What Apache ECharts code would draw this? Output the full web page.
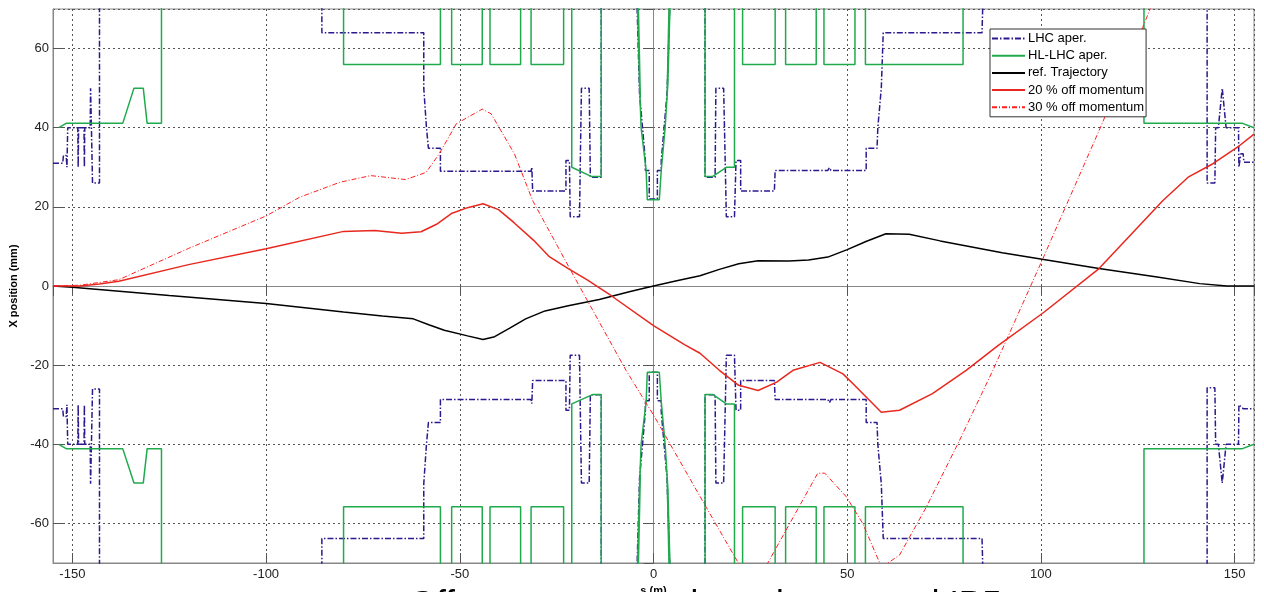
<!DOCTYPE html>
<html>
<head>
<meta charset="utf-8">
<script src="https://cdn.jsdelivr.net/npm/echarts@6/dist/echarts.min.js"></script>
<style>
  html, body { margin: 0; padding: 0; background: #fff; }
  #chart { width: 1264px; height: 592px; }
</style>
</head>
<body>
<div id="chart"></div>
<script>
// s (m), x (mm) pairs
var lhcUpper = [
  [-155, 31], [-152.5, 31], [-152.3, 33], [-151.6, 33], [-151.4, 30], [-151.3, 30], [-151.2, 40],
  [-148.6, 40], [-148.5, 30], [-148.4, 40], [-147, 40], [-146.9, 30], [-146.8, 40],
  [-145.4, 40], [-145.3, 50], [-145.1, 41], [-144.8, 41], [-144.8, 26], [-143, 26], [-143, 90],
  [-85.6, 90], [-85.6, 64], [-59.3, 64], [-59.3, 50], [-58.6, 40], [-58.1, 40], [-58.1, 34.8],
  [-55, 34.8], [-55, 29], [-31.6, 29], [-31.4, 30], [-31.2, 24], [-22.6, 24], [-22.6, 31.7],
  [-21.7, 31.7], [-21.5, 17.5], [-19.1, 17.5], [-18.9, 31], [-18.6, 50], [-16.6, 50], [-16.3, 27.5],
  [-13.5, 27.5], [-13.5, 90], [-4.8, 90], [-3.6, 48.6], [-2.1, 31.7], [-2.1, 29.2], [-1.1, 29.2],
  [-1.1, 22], [1, 22], [1, 29.2], [2, 29.2], [2, 31.7], [3.5, 48.6], [4.8, 90],
  [13.3, 90], [13.3, 27.5], [15.9, 27.5], [16.1, 50], [18.1, 50], [18.5, 31.7], [18.8, 17.5],
  [20.9, 17.5], [21.3, 31.7], [22.5, 31.7], [22.5, 24], [31.2, 24], [31.4, 29.2], [45, 29.2],
  [45.4, 29.9], [45.8, 29.2], [54.9, 29.2], [54.9, 34.8], [57.7, 34.8], [57.9, 40], [58.8, 50],
  [59.3, 64], [84.8, 64], [85.5, 90],
  [142.9, 90], [142.9, 26], [144.9, 26], [145.1, 40], [145.8, 40], [146.8, 50], [147.8, 40],
  [149.6, 40], [151, 40], [151.1, 30], [151.4, 30], [151.6, 33.4], [152.2, 33.4], [152.4, 31.3], [155, 31.3]
];
var lhcLower = [
  [-155, -31], [-152.5, -31], [-152.3, -33], [-151.6, -33], [-151.4, -30], [-151.3, -30], [-151.2, -40],
  [-148.6, -40], [-148.5, -30], [-148.4, -40], [-147, -40], [-146.9, -30], [-146.8, -40],
  [-145.4, -40], [-145.3, -50], [-145.1, -41], [-144.8, -41], [-144.8, -26], [-143, -26], [-143, -90],
  [-85.6, -90], [-85.6, -63.8], [-59.3, -63.8], [-59.3, -50], [-58.6, -40], [-58.1, -40], [-58.1, -34.5],
  [-55, -34.5], [-55, -28.7], [-31.6, -28.7], [-31.4, -29.7], [-31.2, -23.9], [-22.6, -23.9], [-22.6, -31.4],
  [-21.7, -31.4], [-21.5, -17.5], [-19.1, -17.5], [-18.9, -31], [-18.6, -49.8], [-16.6, -49.8], [-16.3, -27.5],
  [-13.5, -27.5], [-13.5, -90], [-4.8, -90], [-3.6, -48.6], [-2.1, -31.7], [-2.1, -29], [-1.1, -29],
  [-1.1, -21.8], [1, -21.8], [1, -29], [2, -29], [2, -31.7], [3.5, -48.6], [4.8, -90],
  [13.3, -90], [13.3, -27.5], [15.9, -27.5], [16.1, -49.8], [18.1, -49.8], [18.5, -31.7], [18.8, -17.5],
  [20.9, -17.5], [21.3, -31.4], [22.5, -31.4], [22.5, -23.9], [31.2, -23.9], [31.4, -28.7], [45, -28.7],
  [45.4, -29.5], [45.8, -28.7], [54.9, -28.7], [54.9, -34.5], [57.7, -34.5], [57.9, -40], [58.8, -50],
  [59.3, -63.8], [84.8, -63.8], [85.5, -90],
  [142.9, -90], [142.9, -25.7], [144.9, -25.7], [145.1, -40], [145.8, -40], [146.8, -49.8], [147.8, -40],
  [149.6, -40], [151, -40], [151.1, -30], [151.4, -30], [151.6, -29.8], [152.2, -31], [155, -31]
];
var hlUpper = [
  [-153.5, 40], [-151.6, 41.1], [-137, 41.1], [-134.1, 50], [-131.7, 50], [-130.7, 41.1], [-127, 41.1], [-127, 90],
  [-80, 90], [-80, 56], [-55, 56], [-55, 90], [-52.1, 90], [-52.1, 56], [-44.2, 56], [-44.2, 90],
  [-42.2, 90], [-42.2, 56], [-34.3, 56], [-34.3, 90], [-31.6, 90], [-31.6, 56], [-23.2, 56], [-23.2, 90],
  [-21.1, 90], [-21.1, 30], [-16.1, 27.7], [-13.5, 27.7], [-13.5, 90],
  [-4.6, 90], [-3.4, 47.6], [-4.0, 75], [-4.6, 90],
  [-3.6, 51], [-3.2, 40], [-1.9, 29.2], [-1.6, 21.8], [1.5, 21.8], [2, 29.2], [3, 40], [3.7, 51], [4.8, 90],
  [3.5, 47.6], [4.1, 75], [4.8, 90],
  [13.3, 90], [13.3, 27.7], [15.3, 27.7], [18.8, 30], [20.9, 30], [20.9, 90],
  [23, 90], [23, 56], [31.4, 56], [31.4, 90], [34.1, 90], [34.1, 56], [42, 56], [42, 90],
  [44, 90], [44, 56], [52, 56], [52, 90], [54.7, 90], [54.7, 56], [79.9, 56], [79.9, 90],
  [126.6, 90], [126.6, 41.1], [152, 41.1], [155, 40]
];
var hlLower = [
  [-153.5, -40], [-151.6, -41.1], [-137, -41.1], [-134.1, -49.8], [-131.7, -49.8], [-130.7, -41.1], [-127, -41.1], [-127, -90],
  [-80, -90], [-80, -55.8], [-55, -55.8], [-55, -90], [-52.1, -90], [-52.1, -55.8], [-44.2, -55.8], [-44.2, -90],
  [-42.2, -90], [-42.2, -55.8], [-34.3, -55.8], [-34.3, -90], [-31.6, -90], [-31.6, -55.8], [-23.2, -55.8], [-23.2, -90],
  [-21.1, -90], [-21.1, -29.8], [-15.6, -27.4], [-13.5, -27.4], [-13.5, -90],
  [-4.6, -90], [-3.4, -47.6], [-4.0, -75], [-4.6, -90],
  [-3.6, -51], [-3.2, -40], [-1.9, -29.2], [-1.6, -21.8], [1.5, -21.8], [2, -29.2], [3, -40], [3.7, -51], [4.8, -90],
  [3.5, -47.6], [4.1, -75], [4.8, -90],
  [13.3, -90], [13.3, -27.4], [15.3, -27.4], [18.8, -29.8], [20.9, -29.8], [20.9, -90],
  [23, -90], [23, -55.8], [31.4, -55.8], [31.4, -90], [34.1, -90], [34.1, -55.8], [42, -55.8], [42, -90],
  [44, -90], [44, -55.8], [52, -55.8], [52, -90], [54.7, -90], [54.7, -55.8], [79.9, -55.8], [79.9, -90],
  [126.6, -90], [126.6, -41.1], [152, -41.1], [155, -40]
];
var refTraj = [
  [-155, 0], [-150, -0.3], [-125, -2.4], [-100, -4.4], [-80, -6.6], [-70, -7.6], [-62, -8.3],
  [-58, -9.8], [-54, -11.2], [-48, -12.6], [-44, -13.5], [-41, -12.8], [-37, -10.6], [-33, -8.3],
  [-28, -6.3], [-22, -5], [-14, -3.4], [-6, -1.4], [0, 0], [6, 1.3], [12, 2.6], [17, 4.2], [22, 5.6],
  [27, 6.4], [35, 6.3], [40, 6.6], [45, 7.3], [50, 9.2], [55, 11.3], [60, 13.2], [66, 13.1],
  [74, 11.4], [90, 8.4], [115, 4.4], [130, 2.3], [141, 0.6], [148, 0], [155, 0]
];
var off20 = [
  [-155, 0], [-148, 0], [-143, 0.5], [-138, 1.2], [-120, 5.4], [-100, 9.4], [-80, 13.8], [-72, 14],
  [-65, 13.3], [-60, 13.7], [-56, 15.6], [-52, 18.4], [-48, 19.8], [-44, 20.8], [-40, 19.3], [-36, 16],
  [-31, 11.6], [-27, 7.5], [-22, 4.4], [-17, 1.5], [-11, -2.4], [0, -10], [8, -14.8], [12, -17],
  [17, -21.3], [22, -25.1], [27, -26.4], [31.8, -24.3], [36, -21.3], [43, -19.3], [48.9, -22.2],
  [51.5, -24.7], [58.8, -31.9], [63.5, -31.4], [72, -27.2], [80.7, -21.3], [89, -15], [100.7, -6.7],
  [115, 4.4], [131.5, 21.6], [138, 27.5], [144.4, 30.9], [151.3, 35.5], [155, 38.4]
];
var off30 = [
  [-155, 0], [-148, 0.2], [-138, 1.6], [-120, 9.5], [-100, 17.7], [-91.4, 22.4], [-81, 26.2],
  [-73, 27.9], [-64, 26.9], [-58.7, 28.7], [-55.3, 33.4], [-50.9, 41], [-44.2, 44.7], [-41.9, 43.5],
  [-35.9, 33.4], [-31.2, 21.6], [-20, 1.5], [-7.1, -21.3], [0.3, -33.1], [13.6, -55.9], [21.9, -70],
  [25.5, -76], [29.5, -70], [42.4, -47.3], [44.2, -47.3], [49.8, -53.3], [54, -60], [58.4, -70],
  [59.5, -72], [60.5, -70], [63.5, -68], [70.4, -55.9], [79, -39], [87.6, -21.3], [100, 5.8],
  [115.2, 39.7], [126.3, 65.4], [129, 72]
];
var legendNames = ['LHC aper.', 'HL-LHC aper.', 'ref. Trajectory', '20 % off momentum', '30 % off momentum'];
var slideTitle = 'Off momentum trajectories around IP5';

var chart = echarts.init(document.getElementById('chart'), null, { renderer: 'canvas' });

var font = 'Liberation Sans, Arial, sans-serif';
var blue = '#2a1a8e', green = '#1fab4c';
var dashDot = [6, 2, 1.5, 2];

function line(name, data, color, width, type) {
  return {
    name: name, type: 'line', data: data, symbol: 'none', clip: true,
    lineStyle: { color: color, width: width, type: type || 'solid' },
    itemStyle: { color: color },
    emphasis: { disabled: true }
  };
}

var option = {
  animation: false,
  backgroundColor: '#fff',
  textStyle: { fontFamily: font },
  grid: {
    left: 53, right: 10, top: 9, bottom: 29,
    containLabel: false, outerBoundsMode: 'none',
    show: true, borderColor: '#888', borderWidth: 1
  },
  legend: {
    data: legendNames,
    orient: 'vertical',
    left: 990, top: 29,
    itemWidth: 33, itemHeight: 14, itemGap: 4.2,
    padding: [3, 2, 3, 1],
    backgroundColor: '#fff',
    borderColor: '#333', borderWidth: 1,
    itemStyle: { opacity: 0, borderWidth: 0 },
    textStyle: { fontSize: 13, color: '#000', fontFamily: font, padding: [0, 0, 0, -2] }
  },
  xAxis: [{
    type: 'value', min: -155, max: 155, splitNumber: 6,
    name: 's (m)', nameLocation: 'middle', nameGap: 18,
    nameTextStyle: { fontSize: 11, fontWeight: 'bold', color: '#000' },
    axisLine: { show: true, onZero: false, lineStyle: { color: '#888' } },
    axisTick: { inside: true, length: 10, lineStyle: { color: '#555' } },
    axisLabel: { fontSize: 13, color: '#222', margin: 5, showMinLabel: false, showMaxLabel: false },
    splitLine: { show: true, lineStyle: { color: '#555', type: [2, 3], width: 1 } }
  }, {
    type: 'value', min: -155, max: 155, splitNumber: 6, position: 'top',
    axisLine: { show: true, lineStyle: { color: '#888' } },
    axisTick: { inside: true, length: 10, lineStyle: { color: '#555' } },
    axisLabel: { show: false }, splitLine: { show: false }
  }],
  yAxis: [{
    type: 'value', min: -70, max: 70, splitNumber: 7,
    name: 'X position (mm)', nameLocation: 'middle', nameGap: 33,
    nameTextStyle: { fontSize: 11, fontWeight: 'bold', color: '#000' },
    axisLine: { show: true, onZero: false, lineStyle: { color: '#888' } },
    axisTick: { inside: true, length: 10, lineStyle: { color: '#555' } },
    axisLabel: { fontSize: 13, color: '#222', margin: 4, showMinLabel: false, showMaxLabel: false },
    splitLine: { show: true, lineStyle: { color: '#555', type: [2, 3], width: 1 } }
  }, {
    type: 'value', min: -70, max: 70, splitNumber: 7, position: 'right',
    axisLine: { show: true, lineStyle: { color: '#888' } },
    axisTick: { inside: true, length: 10, lineStyle: { color: '#555' } },
    axisLabel: { show: false }, splitLine: { show: false }
  }],
  graphic: [{
    type: 'text', left: 409, top: 588, silent: true, z: -1,
    style: { text: slideTitle, font: '35px ' + font, fill: '#000' }
  }],
  series: [
    line('LHC aper.', lhcUpper, blue, 1.5, dashDot),
    line('LHC aper.', lhcLower, blue, 1.5, dashDot),
    line('HL-LHC aper.', hlUpper, green, 1.5),
    line('HL-LHC aper.', hlLower, green, 1.5),
    line('ref. Trajectory', refTraj, '#000', 1.5),
    line('20 % off momentum', off20, '#e8281e', 1.5),
    line('30 % off momentum', off30, '#ff2020', 1, [5, 2, 1, 2])
  ]
};
chart.setOption(option);
</script>
</body>
</html>
